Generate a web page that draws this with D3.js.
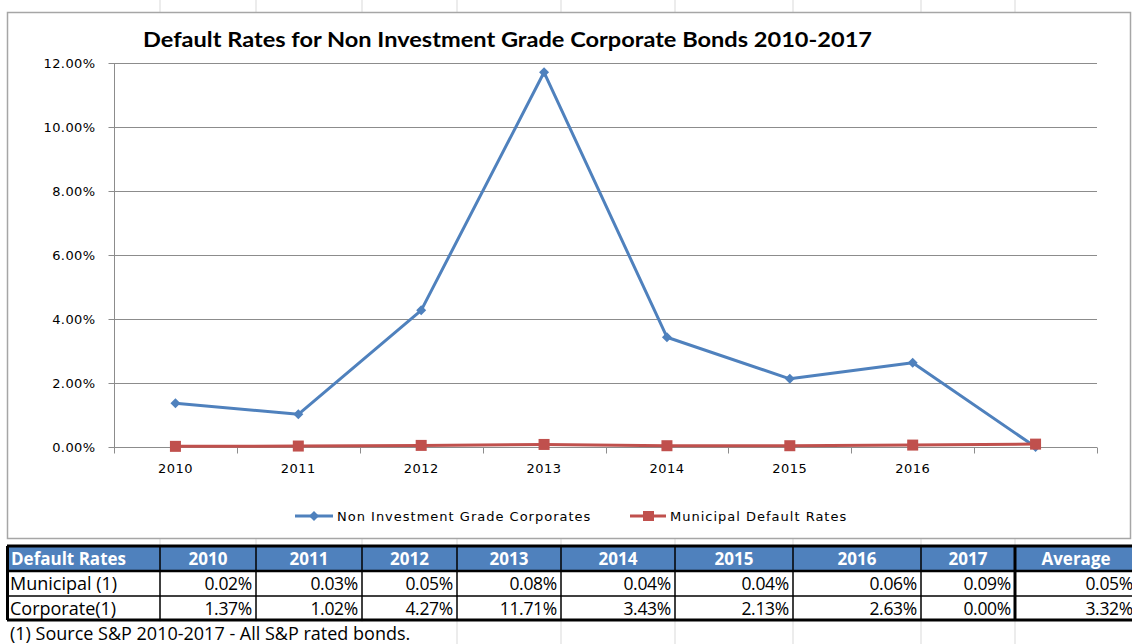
<!DOCTYPE html>
<html>
<head>
<meta charset="utf-8">
<script src="https://cdn.jsdelivr.net/npm/d3@7"></script>
<style>
  html, body { margin: 0; padding: 0; background: #fff; }
  svg { display: block; }
</style>
</head>
<body>
<svg id="chart" width="1132" height="644"></svg>
<script>
// Default rates (in percent) by year
const years = ["2010", "2011", "2012", "2013", "2014", "2015", "2016", "2017"];
const xTickLabels = ["2010", "2011", "2012", "2013", "2014", "2015", "2016", ""];
const corporate = [1.37, 1.02, 4.27, 11.71, 3.43, 2.13, 2.63, 0.00];
const municipal = [0.02, 0.03, 0.05, 0.08, 0.04, 0.04, 0.06, 0.09];
const municipalAverage = 0.05;
const corporateAverage = 3.32;
const yTicks = [0, 2, 4, 6, 8, 10, 12];

const seriesNames = ["Non Investment Grade Corporates", "Municipal Default Rates"];
const rowLabels = ["Municipal (1)", "Corporate(1)"];
const tableHeader = "Default Rates";
const averageHeader = "Average";
const chartTitle = "Default Rates for Non Investment Grade Corporate Bonds 2010-2017";
const footnote = "(1) Source S&P 2010-2017 - All S&P rated bonds.";

const BLUE = "#4F81BD", RED = "#C0504D", GRID = "#8c8c8c";
const svg = d3.select("#chart");

// Spreadsheet column edges (grid behind the chart object)
const colEdges = [7, 160, 256, 362, 457, 561, 675, 793, 921, 1015, 1137];
svg.append("g").selectAll("line").data(colEdges.slice(1, -1)).join("line")
  .attr("x1", d => d).attr("x2", d => d).attr("y1", 0).attr("y2", 644)
  .attr("stroke", "#d9d9d9").attr("stroke-width", 1);

// Chart object frame
svg.append("rect").attr("x", 7.5).attr("y", 12.5).attr("width", 1123).attr("height", 526)
  .attr("fill", "#fff").attr("stroke", "#a6a6a6").attr("stroke-width", 1.5);

svg.append("text").attr("x", 143).attr("y", 47)
  .attr("font-family", "Lato, 'Open Sans', sans-serif").attr("font-weight", "bold")
  .attr("font-size", 20.5).attr("fill", "#000")
  .attr("textLength", 729).attr("lengthAdjust", "spacingAndGlyphs")
  .text(chartTitle);

const x = d3.scaleBand().domain(years).range([114, 1097]).padding(0);
const y = d3.scaleLinear().domain([0, 12]).range([447, 63]);
const axisFont = "'DejaVu Sans', Verdana, sans-serif";

// Horizontal gridlines
svg.append("g").selectAll("line").data(yTicks.slice(1)).join("line")
  .attr("x1", 114).attr("x2", 1097)
  .attr("y1", d => Math.round(y(d)) + 0.5).attr("y2", d => Math.round(y(d)) + 0.5)
  .attr("stroke", GRID).attr("stroke-width", 1);

// Y axis
const yAxis = svg.append("g").attr("transform", "translate(114.5,0)")
  .call(d3.axisLeft(y).tickValues(yTicks).tickSize(6).tickPadding(13)
    .tickFormat(d => d3.format(".2f")(d) + "%"));
yAxis.select(".domain").attr("stroke", GRID).attr("d", `M0,${y(12)}V${y(0)}`);
yAxis.selectAll(".tick line").attr("stroke", GRID);
yAxis.selectAll(".tick text").attr("font-family", axisFont).attr("font-size", 13)
  .attr("fill", "#000").attr("letter-spacing", 0.4);

// X axis with tick marks at category boundaries
const xAxisG = svg.append("g").attr("transform", `translate(0,${Math.round(y(0)) + 0.5})`);
xAxisG.append("line").attr("x1", 114).attr("x2", 1097).attr("stroke", GRID);
const boundaries = years.map(d => x(d)).concat([x.range()[1]]);
xAxisG.selectAll("line.tk").data(boundaries).join("line").attr("class", "tk")
  .attr("x1", d => Math.round(d) + 0.5).attr("x2", d => Math.round(d) + 0.5)
  .attr("y1", 0).attr("y2", 6).attr("stroke", GRID);
xAxisG.selectAll("text").data(years).join("text")
  .attr("x", d => x(d) + x.bandwidth() / 2).attr("y", 25)
  .attr("text-anchor", "middle").attr("font-family", axisFont).attr("font-size", 13)
  .attr("letter-spacing", 0.5).attr("fill", "#000")
  .text((d, i) => xTickLabels[i]);

const cx = d => x(d) + x.bandwidth() / 2;
const line = d3.line().x((d, i) => cx(years[i])).y(d => y(d));

// Corporate series
svg.append("path").datum(corporate).attr("d", line).attr("fill", "none")
  .attr("stroke", BLUE).attr("stroke-width", 3).attr("stroke-linejoin", "round");
const diamond = d3.symbol().type(d3.symbolDiamond2).size(64);
svg.append("g").selectAll("path").data(corporate).join("path")
  .attr("d", diamond).attr("transform", (d, i) => `translate(${cx(years[i])},${y(d)})`)
  .attr("fill", BLUE);

// Municipal series
svg.append("path").datum(municipal).attr("d", line).attr("fill", "none")
  .attr("stroke", RED).attr("stroke-width", 3);
svg.append("g").selectAll("rect").data(municipal).join("rect")
  .attr("x", (d, i) => cx(years[i]) - 5.5).attr("y", d => y(d) - 5.5)
  .attr("width", 11).attr("height", 11).attr("fill", RED);

// Legend
const legend = svg.append("g").attr("font-family", axisFont).attr("font-size", 13).attr("letter-spacing", 1.0);
legend.append("line").attr("x1", 295).attr("x2", 333).attr("y1", 516).attr("y2", 516)
  .attr("stroke", BLUE).attr("stroke-width", 3);
legend.append("path").attr("d", diamond).attr("transform", "translate(314,516)").attr("fill", BLUE);
legend.append("text").attr("x", 337).attr("y", 520.5).text(seriesNames[0]);
legend.append("line").attr("x1", 630).attr("x2", 666).attr("y1", 516).attr("y2", 516)
  .attr("stroke", RED).attr("stroke-width", 3);
legend.append("rect").attr("x", 643).attr("y", 511).attr("width", 11).attr("height", 10).attr("fill", RED);
legend.append("text").attr("x", 670).attr("y", 520.5).text(seriesNames[1]);

// Data table
const tableFont = "'Open Sans', Lato, sans-serif";
const rowTops = [546, 571, 596, 620];
const pct = v => v.toFixed(2) + "%";
const rows = [
  municipal.map(pct).concat([pct(municipalAverage)]),
  corporate.map(pct).concat([pct(corporateAverage)])
];
const table = svg.append("g");
table.append("rect").attr("x", 7).attr("y", rowTops[0]).attr("width", 1130).attr("height", rowTops[1] - rowTops[0]).attr("fill", BLUE);
table.append("rect").attr("x", 7).attr("y", rowTops[1]).attr("width", 1130).attr("height", rowTops[3] - rowTops[1]).attr("fill", "#fff");

const headerCells = [tableHeader].concat(years, [averageHeader]);
table.selectAll("text.h").data(headerCells).join("text").attr("class", "h")
  .attr("x", (d, i) => i === 0 ? colEdges[0] + 4 : (colEdges[i] + colEdges[i + 1]) / 2)
  .attr("y", rowTops[0] + 19)
  .attr("text-anchor", (d, i) => i === 0 ? "start" : "middle")
  .attr("font-family", tableFont).attr("font-weight", "bold").attr("font-size", 17)
  .attr("fill", "#fff").text(d => d);

rows.forEach((r, ri) => {
  const yb = rowTops[ri + 1] + 19;
  table.append("text").attr("x", colEdges[0] + 3).attr("y", yb)
    .attr("font-family", tableFont).attr("font-size", 18).attr("fill", "#000").text(rowLabels[ri]);
  table.selectAll(null).data(r).join("text")
    .attr("x", (d, i) => colEdges[i + 2] - 4).attr("y", yb).attr("text-anchor", "end")
    .attr("font-family", tableFont).attr("font-size", 17.5).attr("letter-spacing", -0.3)
    .attr("fill", "#000").text(d => d);
});

// Borders
colEdges.slice(1, -1).forEach((cxp, i) => {
  table.append("line").attr("x1", cxp).attr("x2", cxp).attr("y1", rowTops[0]).attr("y2", rowTops[3])
    .attr("stroke", "#000").attr("stroke-width", i === colEdges.length - 3 ? 3 : 1.5);
});
table.append("line").attr("x1", 7).attr("x2", 1137).attr("y1", rowTops[0]).attr("y2", rowTops[0]).attr("stroke", "#000").attr("stroke-width", 3);
table.append("line").attr("x1", 7).attr("x2", 1137).attr("y1", rowTops[1]).attr("y2", rowTops[1]).attr("stroke", "#000").attr("stroke-width", 2.5);
table.append("line").attr("x1", 7).attr("x2", 1137).attr("y1", rowTops[2]).attr("y2", rowTops[2]).attr("stroke", "#000").attr("stroke-width", 1.5);
table.append("line").attr("x1", 7).attr("x2", 1137).attr("y1", rowTops[3]).attr("y2", rowTops[3]).attr("stroke", "#000").attr("stroke-width", 3);
table.append("line").attr("x1", 7.5).attr("x2", 7.5).attr("y1", rowTops[0]).attr("y2", rowTops[3]).attr("stroke", "#000").attr("stroke-width", 3);

// Footnote (text overflows across cells, hiding the grid behind it)
svg.append("rect").attr("x", 8).attr("y", 622).attr("width", 440).attr("height", 22).attr("fill", "#fff");
svg.append("text").attr("x", 10).attr("y", 640).attr("font-family", tableFont).attr("font-size", 18)
  .attr("fill", "#000").text(footnote);
</script>
</body>
</html>
